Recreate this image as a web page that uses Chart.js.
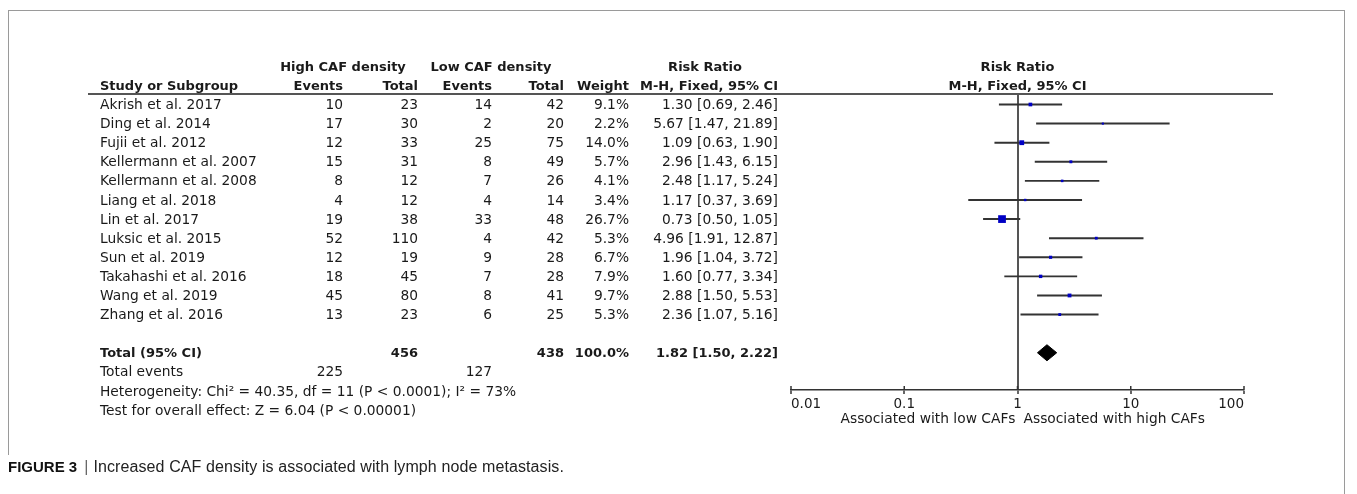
<!DOCTYPE html>
<html>
<head>
<meta charset="utf-8">
<script src="https://cdn.jsdelivr.net/npm/chart.js@4"></script>
<style>
  body { margin: 0; background: #fff; width: 1357px; height: 494px; overflow: hidden; position: relative; }
  .rule { position: absolute; background: #9a9a9a; }
  #forest { position: absolute; left: 0; top: 0; }
  .caption { position: absolute; left: 8px; top: 458px; font: 16px "Liberation Sans", Arial, sans-serif; letter-spacing: 0.1px; line-height: 18px; color: #222; white-space: nowrap; }
  .caption b { color: #111; font-size: 15px; letter-spacing: 0; }
  .caption .bar { color: #666; padding: 0 5px 0 7px; }
</style>
</head>
<body>
<div class="rule" style="left:8px;top:10px;width:1337px;height:1px"></div>
<div class="rule" style="left:8px;top:10px;width:1px;height:445px"></div>
<div class="rule" style="left:1344px;top:10px;width:1px;height:484px"></div>
<canvas id="forest" width="1357" height="494"></canvas>
<div class="caption"><b>FIGURE 3</b><span class="bar">|</span>Increased CAF density is associated with lymph node metastasis.</div>

<script>
// study data
var studies = ["Akrish et al. 2017", "Ding et al. 2014", "Fujii et al. 2012", "Kellermann et al. 2007",
  "Kellermann et al. 2008", "Liang et al. 2018", "Lin et al. 2017", "Luksic et al. 2015",
  "Sun et al. 2019", "Takahashi et al. 2016", "Wang et al. 2019", "Zhang et al. 2016"];
var highEvents = [10, 17, 12, 15, 8, 4, 19, 52, 12, 18, 45, 13];
var highTotal = [23, 30, 33, 31, 12, 12, 38, 110, 19, 45, 80, 23];
var lowEvents = [14, 2, 25, 8, 7, 4, 33, 4, 9, 7, 8, 6];
var lowTotal = [42, 20, 75, 49, 26, 14, 48, 42, 28, 28, 41, 25];
var weights = [9.1, 2.2, 14.0, 5.7, 4.1, 3.4, 26.7, 5.3, 6.7, 7.9, 9.7, 5.3];
var riskRatio = [1.30, 5.67, 1.09, 2.96, 2.48, 1.17, 0.73, 4.96, 1.96, 1.60, 2.88, 2.36];
var ciLow = [0.69, 1.47, 0.63, 1.43, 1.17, 0.37, 0.50, 1.91, 1.04, 0.77, 1.50, 1.07];
var ciHigh = [2.46, 21.89, 1.90, 6.15, 5.24, 3.69, 1.05, 12.87, 3.72, 3.34, 5.53, 5.16];

// pooled result
var pooledTotals = [456, 438];
var pooledEvents = [225, 127];
var pooledWeight = 100.0;
var pooledRR = [1.82, 1.50, 2.22]; // estimate, lower, upper
var heterogeneityText = "Heterogeneity: Chi\u00b2 = 40.35, df = 11 (P < 0.0001); I\u00b2 = 73%";
var overallText = "Test for overall effect: Z = 6.04 (P < 0.00001)";

var xTicks = [0.01, 0.1, 1, 10, 100];
var favourLabels = ["Associated with low CAFs", "Associated with high CAFs"];

var totalRow = studies.length + 1;

function fmtCI(est, lo, hi) {
  return est.toFixed(2) + " [" + lo.toFixed(2) + ", " + hi.toFixed(2) + "]";
}

// square side grows with study weight
function markerRadius(w) {
  return (1.6 + 0.23 * w) / Math.SQRT2;
}

var FONT = "'DejaVu Sans'";
var normal = "13.8px " + FONT;
var bold = "bold 13px " + FONT;

/**
 * table text, header rule and inner tick halves
 */
var forestTable = {
  id: "forestTable",
  afterDraw: function (chart) {
    var ctx = chart.ctx;
    var x = chart.scales.x;
    var y = chart.scales.y;
    var area = chart.chartArea;

    function put(s, px, row, align, font) {
      ctx.font = font || normal;
      ctx.textAlign = align || "right";
      ctx.fillText(s, px, y.getPixelForValue(row) + 1);
    }

    ctx.save();
    ctx.fillStyle = "#1a1a1a";
    ctx.textBaseline = "middle";

    // column headers
    put("High CAF density", 343, -2, "center", bold);
    put("Low CAF density", 491, -2, "center", bold);
    put("Risk Ratio", 705, -2, "center", bold);
    var mid = (area.left + area.right) / 2;
    put("Risk Ratio", mid, -2, "center", bold);
    put("Study or Subgroup", 100, -1, "left", bold);
    put("Events", 343, -1, "right", bold);
    put("Total", 418, -1, "right", bold);
    put("Events", 492, -1, "right", bold);
    put("Total", 564, -1, "right", bold);
    put("Weight", 629, -1, "right", bold);
    put("M-H, Fixed, 95% CI", 778, -1, "right", bold);
    put("M-H, Fixed, 95% CI", mid, -1, "center", bold);

    for (var i = 0; i < studies.length; i++) {
      put(studies[i], 100, i, "left");
      put(String(highEvents[i]), 343, i);
      put(String(highTotal[i]), 418, i);
      put(String(lowEvents[i]), 492, i);
      put(String(lowTotal[i]), 564, i);
      put(weights[i].toFixed(1) + "%", 629, i);
      put(fmtCI(riskRatio[i], ciLow[i], ciHigh[i]), 778, i);
    }

    put("Total (95% CI)", 100, totalRow, "left", bold);
    put(String(pooledTotals[0]), 418, totalRow, "right", bold);
    put(String(pooledTotals[1]), 564, totalRow, "right", bold);
    put(pooledWeight.toFixed(1) + "%", 629, totalRow, "right", bold);
    put(fmtCI(pooledRR[0], pooledRR[1], pooledRR[2]), 778, totalRow, "right", bold);

    put("Total events", 100, totalRow + 1, "left");
    put(String(pooledEvents[0]), 343, totalRow + 1);
    put(String(pooledEvents[1]), 492, totalRow + 1);
    put(heterogeneityText, 100, totalRow + 2, "left");
    put(overallText, 100, totalRow + 3, "left");

    // favours labels under the axis
    var one = x.getPixelForValue(1);
    ctx.font = normal;
    ctx.textAlign = "right";
    ctx.fillText(favourLabels[0], one - 2, 419);
    ctx.textAlign = "left";
    ctx.fillText(favourLabels[1], one + 6, 419);

    // header rule
    ctx.strokeStyle = "#555";
    ctx.lineWidth = 2;
    ctx.beginPath();
    ctx.moveTo(88, area.top);
    ctx.lineTo(1273, area.top);
    ctx.stroke();

    // upper half of the axis ticks
    ctx.strokeStyle = "#333";
    ctx.lineWidth = 1.5;
    x.ticks.forEach(function (t) {
      var px = x.getPixelForValue(t.value);
      ctx.beginPath();
      ctx.moveTo(px, area.bottom - 4);
      ctx.lineTo(px, area.bottom);
      ctx.stroke();
    });
    ctx.restore();
  }
};

Chart.defaults.font.family = FONT;
Chart.defaults.color = "#1a1a1a";

var chart = new Chart(document.getElementById("forest"), {
  type: "scatter",
  data: {
    datasets: [
      {
        type: "scatter",
        data: riskRatio.map(function (v, i) { return { x: v, y: i }; }),
        pointStyle: "rect",
        pointRadius: function (c) { return markerRadius(weights[c.dataIndex]); },
        pointBackgroundColor: "#0000c4",
        pointBorderWidth: 0,
        order: 0
      },
      {
        type: "bar",
        indexAxis: "y",
        data: studies.map(function (s, i) { return { y: i, x: [ciLow[i], ciHigh[i]] }; }),
        backgroundColor: "#333",
        borderWidth: 0,
        barThickness: 1.3,
        order: 2
      },
      {
        type: "line",
        data: [
          { x: pooledRR[1], y: totalRow },
          { x: pooledRR[0], y: totalRow - 0.42 },
          { x: pooledRR[2], y: totalRow },
          { x: pooledRR[0], y: totalRow + 0.42 },
          { x: pooledRR[1], y: totalRow }
        ],
        fill: "shape",
        backgroundColor: "#000",
        borderColor: "#000",
        borderWidth: 1,
        pointRadius: 0,
        tension: 0,
        order: 0
      }
    ]
  },
  options: {
    responsive: false,
    animation: false,
    devicePixelRatio: 1,
    events: [],
    layout: { padding: { left: 791, right: 113, top: 94, bottom: 84 } },
    plugins: {
      legend: { display: false },
      tooltip: { enabled: false }
    },
    scales: {
      x: {
        type: "logarithmic",
        position: "bottom",
        min: 0.01,
        max: 100,
        offset: false,
        afterBuildTicks: function (s) {
          s.ticks = xTicks.map(function (v) { return { value: v }; });
        },
        afterFit: function (s) { s.height = 20; },
        border: { display: true, color: "#333", width: 1.5 },
        grid: {
          offset: false,
          drawOnChartArea: true,
          drawTicks: true,
          tickLength: 4,
          tickColor: "#333",
          tickWidth: 1.5,
          color: function (c) { return c.tick && c.tick.value === 1 ? "#555" : "rgba(0,0,0,0)"; },
          lineWidth: function (c) { return c.tick && c.tick.value === 1 ? 2 : 0; }
        },
        ticks: {
          autoSkip: false,
          maxRotation: 0,
          align: "inner",
          padding: 2,
          color: "#1a1a1a",
          font: { size: 13.5 },
          callback: function (v) { return String(v); }
        }
      },
      y: {
        type: "linear",
        reverse: true,
        min: -0.55,
        max: 14.95,
        offset: false,
        display: false,
        grid: { offset: false }
      }
    }
  },
  plugins: [forestTable]
});
</script>
</body>
</html>
